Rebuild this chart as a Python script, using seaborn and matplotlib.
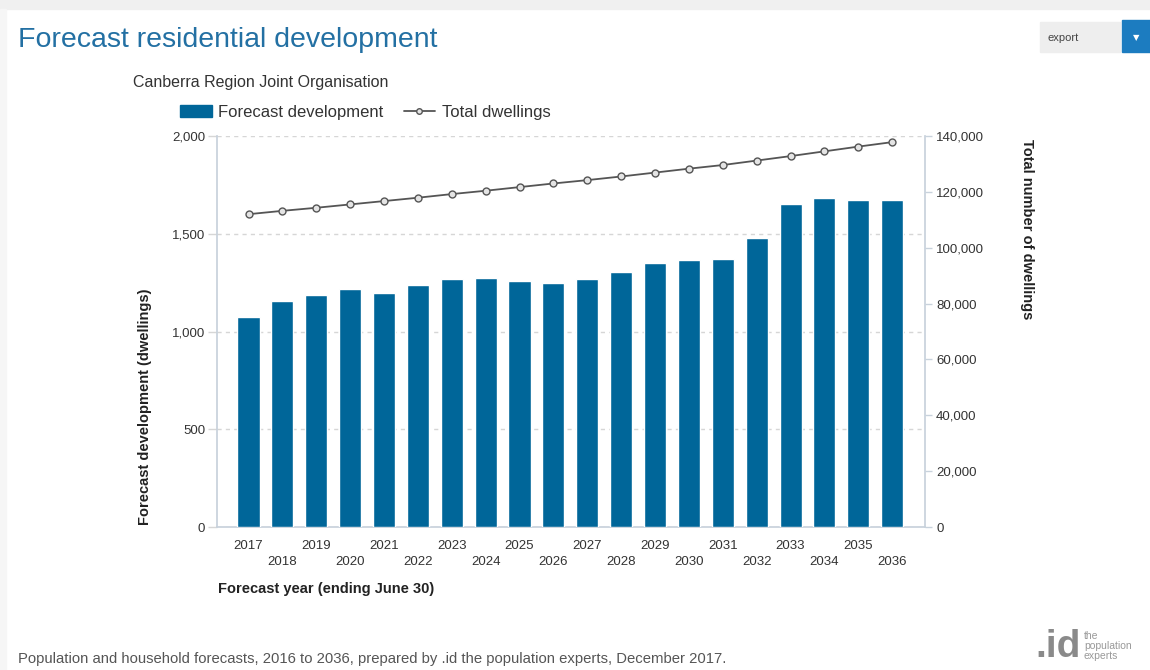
import matplotlib
matplotlib.use("Agg")
import matplotlib.pyplot as plt
import seaborn as sns
import pandas as pd
import numpy as np
from matplotlib.patches import Patch, Rectangle
from matplotlib.lines import Line2D

# ---------------- data ----------------
years = ["2017", "2018", "2019", "2020", "2021", "2022", "2023", "2024", "2025", "2026",
         "2027", "2028", "2029", "2030", "2031", "2032", "2033", "2034", "2035", "2036"]
forecast_development = [1075, 1154, 1189, 1216, 1199, 1240, 1268, 1274, 1256, 1248,
                        1268, 1305, 1350, 1364, 1371, 1478, 1652, 1681, 1675, 1675]
total_dwellings = [112000, 113200, 114300, 115500, 116700, 117900, 119200, 120400, 121700, 123000,
                   124200, 125500, 126900, 128300, 129600, 131200, 132800, 134500, 136200, 137800]
left_ticks = [0, 500, 1000, 1500, 2000]
right_ticks = [0, 20000, 40000, 60000, 80000, 100000, 120000, 140000]

# ---------------- style ----------------
sns.set_theme(style="white")
plt.rcParams['font.family'] = ['Liberation Sans', 'DejaVu Sans']

BAR = '#006699'
LINE = '#555555'
AXCOL = '#c8d2dc'
GRID = '#d6d6d6'
TXT = '#333333'

W, H = 1150, 670
fig = plt.figure(figsize=(W / 100, H / 100), dpi=100)
fig.patch.set_facecolor('white')


def fx(px):
    return px / W


def fy(py):
    return 1 - py / H


# card shadow
fig.patches.append(Rectangle((0, fy(9)), 1, 9 / H, transform=fig.transFigure,
                             color='#f0f0f0', zorder=0))
fig.patches.append(Rectangle((0, 0), 6 / W, fy(9), transform=fig.transFigure,
                             color='#f6f6f6', zorder=0))

ax = fig.add_axes([fx(217), fy(527), fx(925) - fx(217), fy(136) - fy(527)])

df = pd.DataFrame({"year": years, "dev": forecast_development, "total": total_dwellings})
df["pos"] = np.arange(len(df))

sns.barplot(data=df, x="year", y="dev", color=BAR, saturation=1, width=0.65,
            ax=ax, zorder=3)

ax.set_ylim(0, 2000)
ax.set_yticks(left_ticks)
ax.set_yticklabels([f"{v:,}" for v in left_ticks])
ax.yaxis.grid(True, color=GRID, linestyle=(0, (3, 3)), linewidth=1)
ax.xaxis.grid(False)
ax.set_axisbelow(True)
for s in ['top', 'right']:
    ax.spines[s].set_visible(False)
ax.spines['left'].set_color(AXCOL)
ax.spines['bottom'].set_color(AXCOL)
ax.set_xlabel("")
ax.set_ylabel("")

ax.set_xticks(range(len(years)))
ax.set_xticklabels([y if i % 2 == 0 else "\n" + y for i, y in enumerate(years)])
for t in ax.get_xticklabels():
    t.set_linespacing(1.47)
ax.tick_params(axis='x', length=0, pad=9.5, labelsize=9.5, labelcolor=TXT)
ax.tick_params(axis='y', length=6.5, width=1, color=GRID, pad=2, labelsize=9.5,
               labelcolor=TXT, left=True)

ax2 = ax.twinx()
sns.lineplot(data=df, x="pos", y="total", ax=ax2, color=LINE, linewidth=1.3,
             marker='o', markersize=5, markerfacecolor='#e4e4e4',
             markeredgecolor=LINE, markeredgewidth=1, legend=False, zorder=4)
ax2.set_ylim(0, 140000)
ax2.set_yticks(right_ticks)
ax2.set_yticklabels([f"{v:,}" for v in right_ticks])
ax2.grid(False)
for s in ['top', 'left', 'bottom']:
    ax2.spines[s].set_visible(False)
ax2.spines['right'].set_color(AXCOL)
ax2.tick_params(axis='y', length=5, width=1, color=AXCOL, pad=3, labelsize=9.5,
                labelcolor=TXT, right=True)
ax2.set_ylabel("")
ax2.set_xlabel("")

ax.set_xlim(-0.93, 19.97)

# ---------------- texts ----------------
fig.text(fx(18), fy(40), "Forecast residential development", fontsize=20.5,
         color='#2370a3', va='center', ha='left')
fig.text(fx(133), fy(82), "Canberra Region Joint Organisation", fontsize=11.5,
         color=TXT, va='center', ha='left')

handles = [Patch(facecolor=BAR, edgecolor=BAR),
           Line2D([0], [0], color=LINE, linewidth=1.3, marker='o', markersize=4,
                  markerfacecolor='#e4e4e4', markeredgecolor=LINE)]
fig.legend(handles, ["Forecast development", "Total dwellings"], ncol=2,
           loc='center left', bbox_to_anchor=(fx(180), fy(112)),
           bbox_transform=fig.transFigure, frameon=False, fontsize=12,
           handlelength=1.9, handleheight=0.72, handletextpad=0.4,
           columnspacing=1.2, borderpad=0, borderaxespad=0, labelcolor=TXT)

fig.text(fx(145), fy(407), "Forecast development (dwellings)", rotation=90,
         fontsize=10.5, fontweight='bold', color='#222222', ha='center', va='center')
fig.text(fx(1027), fy(229), "Total number of dwellings", rotation=270,
         fontsize=10.5, fontweight='bold', color='#222222', ha='center', va='center')
fig.text(fx(218), fy(589), "Forecast year (ending June 30)", fontsize=10.5,
         fontweight='bold', color='#222222', ha='left', va='center')

fig.text(fx(18), fy(659),
         "Population and household forecasts, 2016 to 2036, prepared by .id the population experts, December 2017.",
         fontsize=10.7, color='#555555', ha='left', va='center')

# export button
fig.patches.append(Rectangle((fx(1040), fy(52)), fx(1120) - fx(1040), 30 / H,
                             transform=fig.transFigure, color='#eeeeee', zorder=1))
fig.patches.append(Rectangle((fx(1122), fy(52)), fx(1150) - fx(1122), 32 / H,
                             transform=fig.transFigure, color='#1c7cc0', zorder=1))
fig.text(fx(1047), fy(38), "export", fontsize=8, color='#444444', ha='left', va='center')
fig.text(fx(1136), fy(38), "▼", fontsize=6, color='white', ha='center', va='center',
         family=['DejaVu Sans'])

# logo
fig.text(fx(1035), fy(647), ".id", fontsize=28, fontweight='bold', color='#8a8a8a',
         ha='left', va='center')
fig.text(fx(1084), fy(646), "the\npopulation\nexperts", fontsize=7.5, color='#999999',
         ha='left', va='center', linespacing=0.95)

fig.savefig("out.png", dpi=100)
